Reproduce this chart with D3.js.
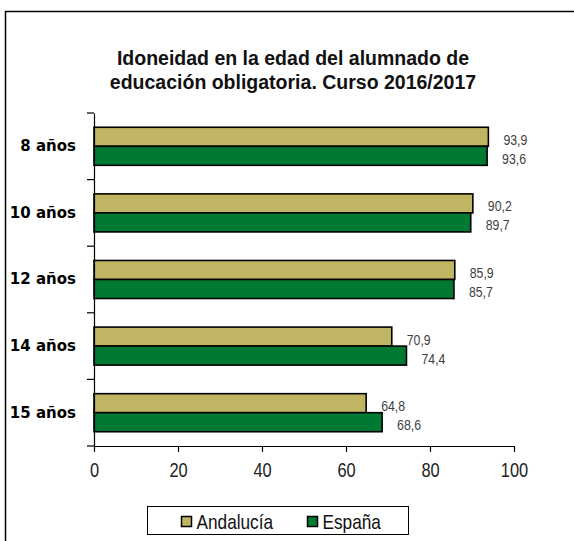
<!DOCTYPE html>
<html>
<head>
<meta charset="utf-8">
<script src="https://cdn.jsdelivr.net/npm/d3@7"></script>
<style>
  body { margin: 0; background: #fff; }
  svg { display: block; }
</style>
</head>
<body>
<div class="chart"></div>
<script>
const WIDTH = 574
const HEIGHT = 541

// datos
const edades = ["8 años", "10 años", "12 años", "14 años", "15 años"];
const series = ["Andalucía", "España"];
const andalucia = [93.9, 90.2, 85.9, 70.9, 64.8];
const espana = [93.6, 89.7, 85.7, 74.4, 68.6];
const xTicks = [0, 20, 40, 60, 80, 100];
const colores = ["#c0b562", "#007a33"];

const valores = [andalucia, espana];
const SANS = "'Liberation Sans', Arial, sans-serif";

// la fuente estrecha no esta instalada: se comprime el texto
function estrecho(sel, k) {
  sel.each(function() {
    const w = this.getComputedTextLength();
    d3.select(this).attr("textLength", w * k).attr("lengthAdjust", "spacingAndGlyphs");
  });
}

const svg = d3.select("div.chart")
            .append("svg")
            .attr("width", WIDTH)
            .attr("height", HEIGHT);

// marco exterior
svg.append("path")
    .attr("d", "M5.5,560 V11.5 H580")
    .attr("fill", "none")
    .attr("stroke", "#000")
    .attr("stroke-width", 1.5);

// titulo
const titulo = svg.append("text")
    .attr("text-anchor", "middle")
    .style("font-family", SANS)
    .style("font-weight", "bold")
    .style("font-size", "19.5px")
    .attr("fill", "#111");
titulo.append("tspan").attr("x", 293).attr("y", 65).text("Idoneidad en la edad del alumnado de");
titulo.append("tspan").attr("x", 293).attr("y", 89).text("educación obligatoria. Curso 2016/2017");

// escalas
const x = d3.scaleLinear().domain([0, 100]).range([94, 514]);
const y0 = d3.scaleBand().domain(edades).range([113, 446]).padding(0);
const y1 = d3.scaleBand().domain(series).range([0, y0.bandwidth()]).paddingInner(0).paddingOuter(0.75);

// barras
const grupos = svg.selectAll("g.grupo")
    .data(edades)
    .enter()
    .append("g")
    .attr("class", "grupo")
    .attr("transform", d => `translate(0,${y0(d)})`);

grupos.selectAll("rect")
    .data((d, i) => series.map((s, j) => ({ s: s, v: valores[j][i], c: colores[j] })))
    .enter()
    .append("rect")
    .attr("x", x(0))
    .attr("y", d => y1(d.s))
    .attr("width", d => x(d.v) - x(0))
    .attr("height", y1.bandwidth())
    .attr("fill", d => d.c)
    .attr("stroke", "#000")
    .attr("stroke-width", 1.6);

grupos.selectAll("text.valor")
    .data((d, i) => series.map((s, j) => ({ s: s, v: valores[j][i] })))
    .enter()
    .append("text")
    .attr("class", "valor")
    .attr("x", d => x(d.v) + 15)
    .attr("y", d => y1(d.s) + y1.bandwidth() / 2 + 8)
    .style("font-family", SANS)
    .style("font-size", "15px")
    .attr("fill", "#404040")
    .text(d => d3.format(".1f")(d.v).replace(".", ","))
    .call(estrecho, 0.82);

// eje x
const xAxis = svg.append("g")
    .attr("transform", "translate(0,446)")
    .call(d3.axisBottom(x).tickValues(xTicks).tickSize(6).tickSizeOuter(0).tickPadding(11));
xAxis.select(".domain").attr("stroke", "#000").attr("stroke-width", 1.2);
xAxis.selectAll(".tick line").attr("stroke", "#000").attr("stroke-width", 1.2);
xAxis.selectAll(".tick text")
    .style("font-family", SANS)
    .style("font-size", "20px")
    .attr("fill", "#222")
    .call(estrecho, 0.82);

// eje y
const yAxis = svg.append("g")
    .attr("transform", "translate(94,0)")
    .call(d3.axisLeft(y0).tickSize(0).tickPadding(18));
yAxis.select(".domain").attr("stroke", "#000").attr("stroke-width", 1.2);
yAxis.selectAll(".tick text")
    .style("font-family", "'DejaVu Sans', sans-serif")
    .style("font-weight", "bold")
    .style("font-size", "15px")
    .attr("fill", "#000");

// marcas entre categorias
const bordes = edades.map(d => y0(d)).concat([y0.range()[1]]);
svg.selectAll("line.marca")
    .data(bordes)
    .enter()
    .append("line")
    .attr("class", "marca")
    .attr("x1", 87)
    .attr("x2", 94)
    .attr("y1", d => d)
    .attr("y2", d => d)
    .attr("stroke", "#000")
    .attr("stroke-width", 1.2);

// leyenda
const leyenda = svg.append("g");
leyenda.append("rect")
    .attr("x", 147.5)
    .attr("y", 506.5)
    .attr("width", 261)
    .attr("height", 28)
    .attr("fill", "#fff")
    .attr("stroke", "#000")
    .attr("stroke-width", 1);

const leyX = [181.5, 307.5];
const items = leyenda.selectAll("g.item")
    .data(series)
    .enter()
    .append("g")
    .attr("class", "item")
    .attr("transform", (d, i) => `translate(${leyX[i]},516.5)`);
items.append("rect")
    .attr("width", 10)
    .attr("height", 10)
    .attr("fill", (d, i) => colores[i])
    .attr("stroke", "#000")
    .attr("stroke-width", 1.5);
items.append("text")
    .attr("x", 15)
    .attr("y", 12.5)
    .style("font-family", SANS)
    .style("font-size", "21px")
    .attr("fill", "#111")
    .text(d => d)
    .call(estrecho, 0.82);
</script>
</body>
</html>
